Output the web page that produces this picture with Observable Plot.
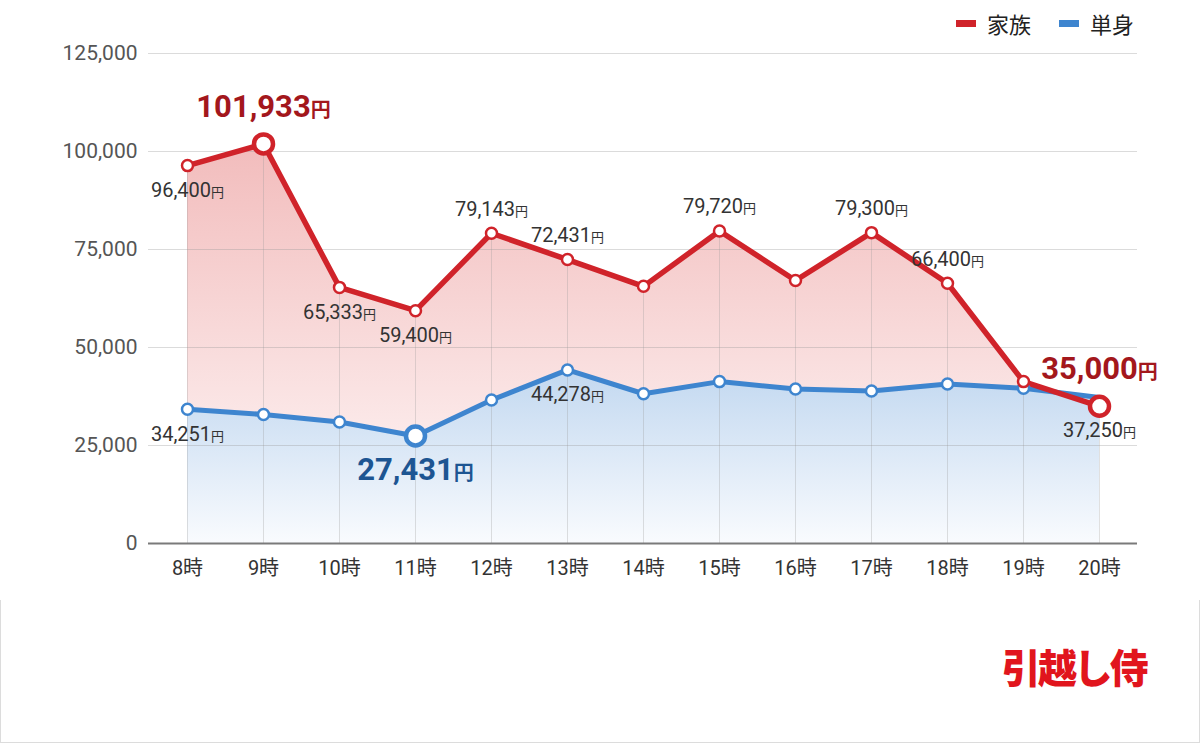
<!DOCTYPE html>
<html>
<head>
<meta charset="utf-8">
<script src="https://cdn.jsdelivr.net/npm/d3@7"></script>
<script src="https://cdn.jsdelivr.net/npm/@observablehq/plot@0.6"></script>
<style>
  body { margin: 0; background: #fff; font-family: Roboto, "Noto Sans CJK JP", sans-serif; }
  #wrap { position: relative; width: 1200px; height: 744px; overflow: hidden; background: #fff; }
  #chart { position: absolute; left: 0; top: 0; }
  #frame { position: absolute; left: 0; top: 600px; width: 1198px; height: 142px;
           border: 1px solid #dcdcdc; border-top: none; }
  #legend { position: absolute; top: 7px; right: 66px; display: flex; align-items: center;
            font-family: "Noto Sans CJK JP", sans-serif; font-size: 22px; color: #222; }
  #legend .item { display: flex; align-items: center; }
  #legend .item + .item { margin-left: 28px; }
  #legend .sw { width: 20px; height: 7px; margin-right: 11px; }
  #brand { position: absolute; left: 1002px; top: 646px; font-family: "Noto Sans CJK JP", sans-serif;
           font-weight: 900; font-size: 40px; letter-spacing: -3px; color: #e1151d; line-height: 1;
           transform: scaleX(0.97); transform-origin: left top; }
</style>
</head>
<body>
<div id="wrap">
  <div id="chart"></div>
  <div id="frame"></div>
  <div id="legend"></div>
  <div id="brand">引越し侍</div>
</div>
<script>
// Hour of the move (x categories)
const hours = ["8時", "9時", "10時", "11時", "12時", "13時", "14時", "15時", "16時", "17時", "18時", "19時", "20時"];
// Average moving cost, yen
const family = [96400, 101933, 65333, 59400, 79143, 72431, 65600, 79720, 67100, 79300, 66400, 41300, 35000];
const single = [34251, 32900, 31000, 27431, 36600, 44278, 38200, 41300, 39400, 38900, 40700, 39600, 37250];
const yTicks = [0, 25000, 50000, 75000, 100000, 125000];

const seriesNames = ["家族", "単身"];
// Which hours get a value label
const familyLabeled = ["8時", "10時", "11時", "12時", "13時", "15時", "17時", "18時"];
const familyPeak = ["9時", "20時"];
const singleLabeled = ["8時", "13時", "20時"];
const singlePeak = ["11時"];

const RED = "#d0232a", BLUE = "#3e85cf";
const RED_DARK = "#a3171c", BLUE_DARK = "#1d5592";

const rows = hours.map((hour, i) => ({hour, family: family[i], single: single[i]}));
const yen = v => d3.format(",")(v) + "円";
const labelsBelowFamily = ["8時", "10時", "11時"];
const lastHour = hours[hours.length - 1];

const famLab = rows.filter(r => familyLabeled.includes(r.hour));
const famAbove = famLab.filter(r => !labelsBelowFamily.includes(r.hour));
const famBelow = famLab.filter(r => labelsBelowFamily.includes(r.hour));
const famPeak = rows.filter(r => familyPeak.includes(r.hour));
const sinLab = rows.filter(r => singleLabeled.includes(r.hour) && r.hour !== lastHour);
const sinLast = rows.filter(r => singleLabeled.includes(r.hour) && r.hour === lastHour);
const sinPeak = rows.filter(r => singlePeak.includes(r.hour));
// the last single marker sits under the large family marker
const sinDots = rows.filter(r => !singlePeak.includes(r.hour) && r.hour !== lastHour);

// Gradient fills for the two areas
const gradients = () => {
  const defs = d3.create("svg:defs");
  const r = defs.append("linearGradient").attr("id", "gradFamily").attr("x1", 0).attr("y1", 0).attr("x2", 0).attr("y2", 1);
  r.append("stop").attr("offset", 0).attr("stop-color", "#f2bcbc");
  r.append("stop").attr("offset", 1).attr("stop-color", "#fffafa");
  const b = defs.append("linearGradient").attr("id", "gradSingle").attr("x1", 0).attr("y1", 0).attr("x2", 0).attr("y2", 1);
  b.append("stop").attr("offset", 0).attr("stop-color", "#c2d8f0");
  b.append("stop").attr("offset", 1).attr("stop-color", "#f9fbfe");
  return defs.node();
};

const chart = Plot.plot({
  width: 1200,
  height: 600,
  marginLeft: 148,
  marginRight: 63,
  marginTop: 53,
  marginBottom: 57,
  style: {fontFamily: 'Roboto, "Noto Sans CJK JP", sans-serif', background: "transparent"},
  x: {type: "point", domain: hours, padding: 0.5, label: null},
  y: {domain: [0, 125000], label: null},
  marks: [
    gradients,
    Plot.areaY(rows, {x: "hour", y: "family", fill: "url(#gradFamily)"}),
    Plot.areaY(rows, {x: "hour", y: "single", fill: "url(#gradSingle)"}),
    Plot.ruleY(yTicks.filter(d => d > 0), {stroke: "#999", strokeOpacity: 0.35}),
    Plot.ruleX(rows, {x: "hour", y1: 0, y2: "family", stroke: "#999", strokeOpacity: 0.3}),
    Plot.ruleY([0], {stroke: "#7a7a7a", strokeWidth: 2}),
    Plot.axisY({ticks: yTicks, tickFormat: d3.format(","), tickSize: 0, tickPadding: 11, fontSize: 21, fill: "#555"}),
    Plot.axisX({tickSize: 0, tickPadding: 17, fontSize: 20, fill: "#333"}),
    Plot.line(rows, {x: "hour", y: "single", stroke: BLUE, strokeWidth: 5, strokeLinejoin: "round"}),
    Plot.line(rows, {x: "hour", y: "family", stroke: RED, strokeWidth: 5.5, strokeLinejoin: "round"}),
    Plot.dot(sinDots, {x: "hour", y: "single", r: 5.5, fill: "white", stroke: BLUE, strokeWidth: 2.5}),
    Plot.dot(sinPeak, {x: "hour", y: "single", r: 9.5, fill: "white", stroke: BLUE, strokeWidth: 4.5}),
    Plot.dot(rows.filter(r => !familyPeak.includes(r.hour)), {x: "hour", y: "family", r: 5.5, fill: "white", stroke: RED, strokeWidth: 2.5}),
    Plot.dot(famPeak, {x: "hour", y: "family", r: 9.5, fill: "white", stroke: RED, strokeWidth: 4.5}),
    Plot.text(famAbove, {x: "hour", y: "family", text: d => yen(d.family), dy: -24, fontSize: 20, fill: "#333", className: "yen-s"}),
    Plot.text(famBelow, {x: "hour", y: "family", text: d => yen(d.family), dy: 25, fontSize: 20, fill: "#333", className: "yen-s"}),
    Plot.text(sinLab, {x: "hour", y: "single", text: d => yen(d.single), dy: 25, fontSize: 20, fill: "#333", className: "yen-s"}),
    Plot.text(sinLast, {x: "hour", y: "single", text: d => yen(d.single), dy: 33, fontSize: 20, fill: "#333", className: "yen-s"}),
    Plot.text(famPeak, {x: "hour", y: "family", text: d => yen(d.family), dy: -37, fontSize: 31, fontWeight: "bold", fill: RED_DARK, className: "yen-b"}),
    Plot.text(sinPeak, {x: "hour", y: "single", text: d => yen(d.single), dy: 34, fontSize: 31, fontWeight: "bold", fill: BLUE_DARK, className: "yen-b"})
  ]
});

// Set the yen sign in a smaller size than the figure
const shrinkYen = (cls, size) => {
  chart.querySelectorAll(`g.${cls} text`).forEach(t => {
    const s = t.textContent;
    if (!s.endsWith("円")) return;
    t.textContent = s.slice(0, -1);
    const ts = document.createElementNS("http://www.w3.org/2000/svg", "tspan");
    ts.textContent = "円";
    ts.setAttribute("font-size", size);
    ts.setAttribute("font-family", '"Noto Sans CJK JP", sans-serif');
    t.appendChild(ts);
  });
};
shrinkYen("yen-s", 13);
shrinkYen("yen-b", 20);

document.getElementById("chart").appendChild(chart);

// Legend
const legend = document.getElementById("legend");
[[seriesNames[0], RED], [seriesNames[1], BLUE]].forEach(([name, color]) => {
  const item = document.createElement("div");
  item.className = "item";
  const sw = document.createElement("div");
  sw.className = "sw";
  sw.style.background = color;
  const label = document.createElement("span");
  label.textContent = name;
  item.append(sw, label);
  legend.appendChild(item);
});
</script>
</body>
</html>
